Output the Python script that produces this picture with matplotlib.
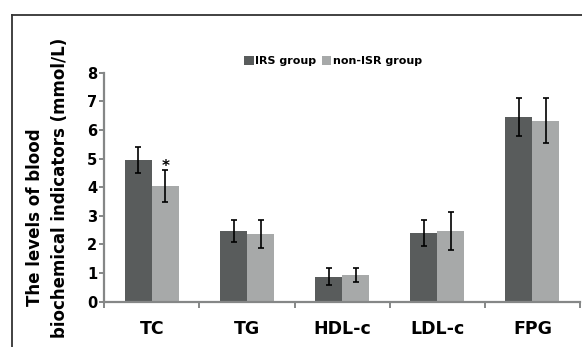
import matplotlib
matplotlib.use("Agg")
import matplotlib.pyplot as plt
from matplotlib.lines import Line2D
import numpy as np

categories = ["TC", "TG", "HDL-c", "LDL-c", "FPG"]
irs_vals = [4.95, 2.47, 0.88, 2.40, 6.45]
irs_err = [0.45, 0.38, 0.31, 0.44, 0.66]
non_vals = [4.05, 2.37, 0.93, 2.47, 6.33]
non_err = [0.56, 0.49, 0.23, 0.66, 0.78]
series_names = ["IRS group", "non-ISR group"]
yticks = [0, 1, 2, 3, 4, 5, 6, 7, 8]

plt.rcParams['font.family'] = ['DejaVu Sans']
plt.rcParams['font.weight'] = 'bold'

fig = plt.figure(figsize=(5.82, 3.47), dpi=100)
ax = fig.add_axes([104.3/582, 1-301.7/347, (580-104.3)/582, (301.7-72.7)/347])

x = np.arange(len(categories))
w = 0.284
dark = "#595c5c"
light = "#a7a9a9"
ekw = dict(ecolor="black", elinewidth=1.2, capsize=2.5, capthick=1.2)
ax.bar(x - w/2, irs_vals, w, color=dark, yerr=irs_err, error_kw=ekw, label=series_names[0])
ax.bar(x + w/2, non_vals, w, color=light, yerr=non_err, error_kw=ekw, label=series_names[1])

ax.text(x[0] + w/2, 4.58, "*", ha="center", va="baseline", fontsize=11, fontweight="bold")

ax.set_xlim(-0.5, 4.5)
ax.set_ylim(0, 8)
ax.set_yticks(yticks)
ax.set_yticklabels([str(t) for t in yticks], fontsize=10.5, fontweight="bold")
ax.set_xticks(x)
ax.set_xticklabels(categories, fontsize=12.5, fontweight="bold")
ax.set_xticks(np.arange(-0.5, 5, 1.0), minor=True)

axis_col = "#858787"
for s in ["top", "right"]:
    ax.spines[s].set_visible(False)
for s in ["left", "bottom"]:
    ax.spines[s].set_color(axis_col)
    ax.spines[s].set_linewidth(1.6)
ax.tick_params(axis="y", direction="out", length=3.6, width=1.4, color=axis_col, pad=1.5)
ax.tick_params(axis="x", which="major", length=0, pad=13)
ax.tick_params(axis="x", which="minor", direction="out", length=4.5, width=1.4, color=axis_col)

leg = ax.legend(loc="center", bbox_to_anchor=(0.481, 1.051), ncol=2, frameon=False,
                prop={"size": 8, "weight": "bold"}, handlelength=0.85, handleheight=0.85,
                handletextpad=0.15, columnspacing=0.5, borderpad=0, borderaxespad=0)

fig.text(35.5/582, 1-217/347, "The levels of blood", rotation=90, ha="center", va="center",
         fontsize=12, fontweight="bold")
fig.text(60.5/582, 1-188/347, "biochemical indicators (mmol/L)", rotation=90, ha="center",
         va="center", fontsize=12, fontweight="bold")

fig.add_artist(Line2D([12/582, 1.0], [1-14.5/347, 1-14.5/347], color="#333333", lw=1.3))
fig.add_artist(Line2D([12/582, 12/582], [0, 1-14.5/347], color="#333333", lw=1.3))

fig.savefig("out.png", dpi=100)
